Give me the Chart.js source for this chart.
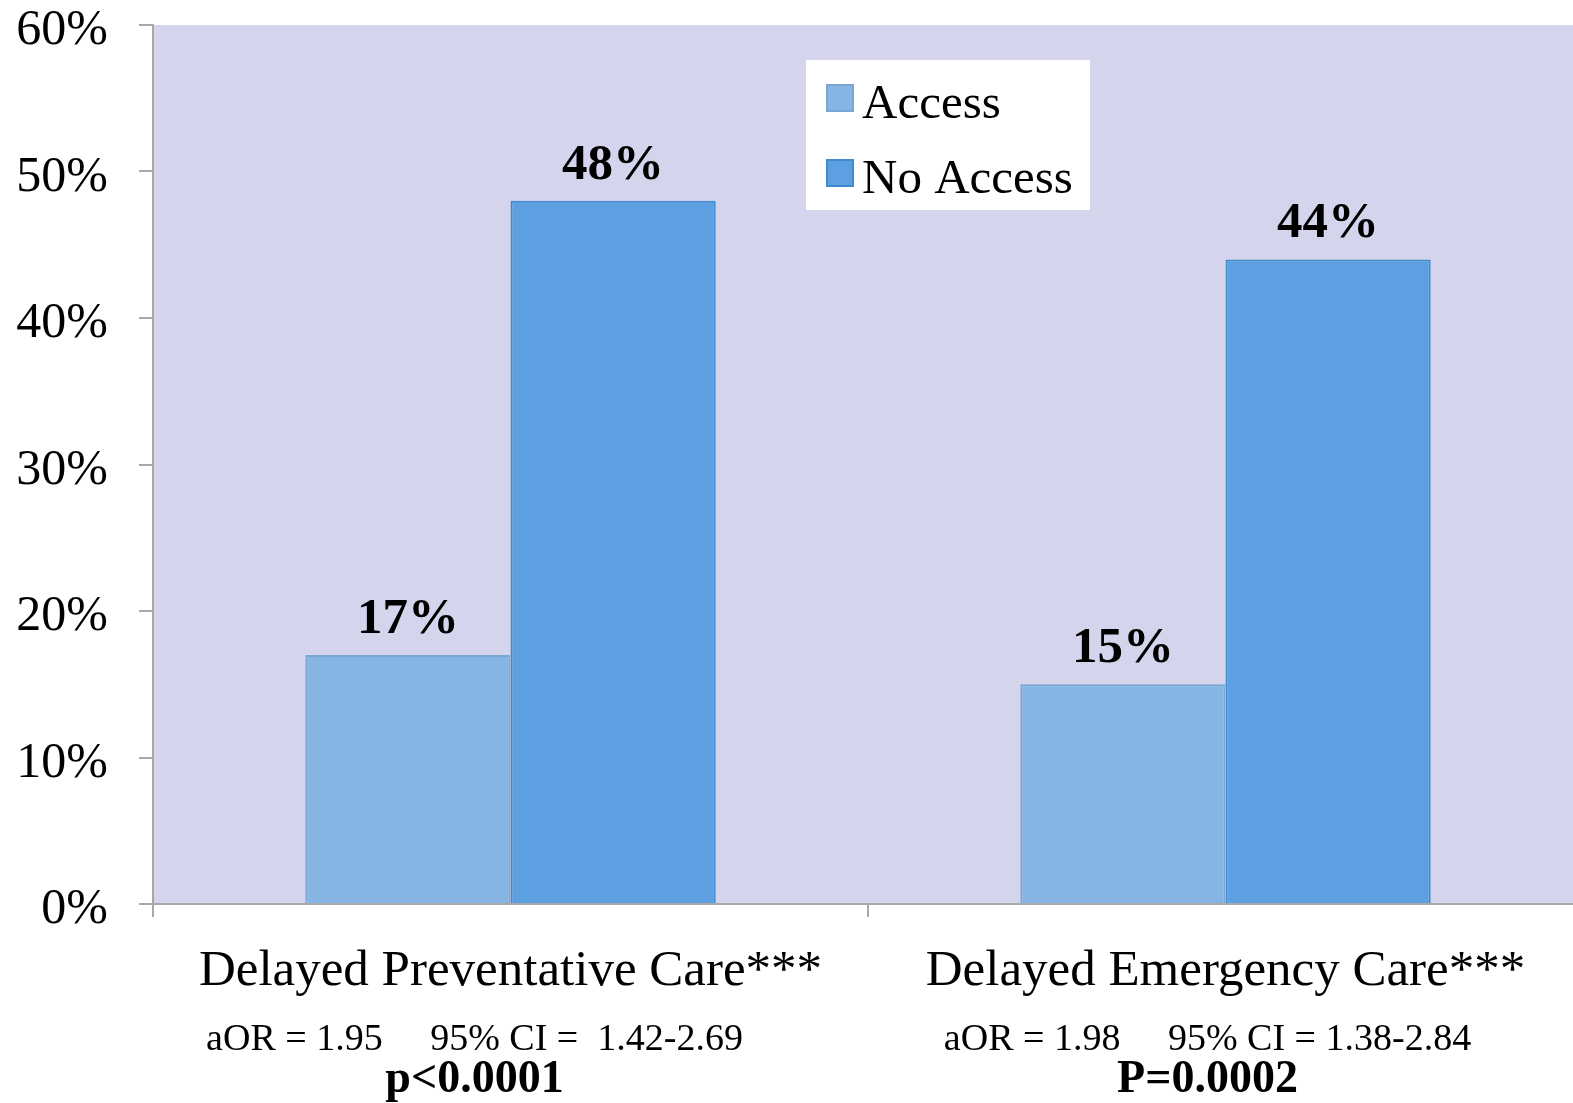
<!DOCTYPE html>
<html>
<head>
<meta charset="utf-8">
<script src="https://cdn.jsdelivr.net/npm/chart.js@4.4.1/dist/chart.umd.min.js"></script>
<style>
  html, body { margin: 0; padding: 0; background: #ffffff; overflow: hidden; }
  #wrap { width: 1583px; height: 1103px; position: relative; }
</style>
</head>
<body>
<div id="wrap"><canvas id="c"></canvas></div>
<script>
// ---- Data ----
const categories = ["Delayed Preventative Care***", "Delayed Emergency Care***"];
const seriesNames = ["Access", "No Access"];
const accessValues = [17, 15];
const noAccessValues = [48, 44];
const yTickValues = [0, 10, 20, 30, 40, 50, 60];
const statLines = ["aOR = 1.95     95% CI =  1.42-2.69", "aOR = 1.98     95% CI = 1.38-2.84"];
const pValues = ["p<0.0001", "P=0.0002"];

// ---- Styles ----
const SERIF = "'Liberation Serif', 'Times New Roman', serif";
const PLOT_BG = '#D4D5EC';
const AXIS = '#A8A8A8';
const colors = {
  access: { fill: '#86B5E4', border: '#79A6D4' },
  noAccess: { fill: '#5CA0E1', border: '#3F89CF' }
};

const plotBg = {
  id: 'plotBg',
  beforeDraw(chart) {
    const { ctx, chartArea: a } = chart;
    ctx.save();
    ctx.fillStyle = PLOT_BG;
    ctx.fillRect(a.left, a.top, a.right - a.left, a.bottom - a.top);
    ctx.restore();
  }
};

const valueLabels = {
  id: 'valueLabels',
  afterDatasetsDraw(chart) {
    const { ctx } = chart;
    ctx.save();
    ctx.font = "bold 51px " + SERIF;
    ctx.fillStyle = '#000';
    ctx.textAlign = 'center';
    ctx.textBaseline = 'alphabetic';
    chart.data.datasets.forEach((ds, di) => {
      const meta = chart.getDatasetMeta(di);
      meta.data.forEach((bar, i) => {
        ctx.fillText(ds.data[i] + '%', bar.x, bar.y - 22);
      });
    });
    ctx.restore();
  }
};

const customLegend = {
  id: 'customLegend',
  afterDraw(chart, args, opts) {
    const { ctx } = chart;
    const x = opts.x, y = opts.y, w = opts.w, h = opts.h;
    ctx.save();
    ctx.fillStyle = '#ffffff';
    ctx.fillRect(x, y, w, h);
    ctx.font = "49px " + SERIF;
    ctx.textBaseline = 'alphabetic';
    ctx.textAlign = 'left';
    chart.data.datasets.forEach((ds, i) => {
      const rowBase = y + 58 + i * 75;
      const sq = 26;
      ctx.fillStyle = ds.backgroundColor;
      ctx.strokeStyle = ds.borderColor;
      ctx.lineWidth = 2;
      ctx.fillRect(x + 21, rowBase - 33, sq, sq);
      ctx.strokeRect(x + 21, rowBase - 33, sq, sq);
      ctx.fillStyle = '#000';
      ctx.fillText(ds.label, x + 56, rowBase);
    });
    ctx.restore();
  }
};

const statsText = {
  id: 'statsText',
  afterDraw(chart, args, opts) {
    const { ctx } = chart;
    const xs = chart.scales.x;
    ctx.save();
    ctx.fillStyle = '#000';
    ctx.textAlign = 'center';
    ctx.textBaseline = 'alphabetic';
    categories.forEach((c, i) => {
      const cx = xs.getPixelForValue(i) + opts.offsets[i];
      ctx.font = "38px " + SERIF;
      ctx.fillText(statLines[i], cx, opts.statY);
      ctx.font = "bold 46px " + SERIF;
      ctx.fillText(pValues[i], cx, opts.pY);
    });
    ctx.restore();
  }
};

new Chart(document.getElementById('c'), {
  type: 'bar',
  data: {
    labels: categories,
    datasets: [
      {
        label: seriesNames[0],
        data: accessValues,
        backgroundColor: colors.access.fill,
        borderColor: colors.access.border,
        borderWidth: 2,
        categoryPercentage: 0.574,
        barPercentage: 1.0
      },
      {
        label: seriesNames[1],
        data: noAccessValues,
        backgroundColor: colors.noAccess.fill,
        borderColor: colors.noAccess.border,
        borderWidth: 2,
        categoryPercentage: 0.574,
        barPercentage: 1.0
      }
    ]
  },
  options: {
    responsive: true,
    maintainAspectRatio: false,
    animation: false,
    layout: { padding: { top: 25, right: 0, bottom: 0, left: 0 } },
    plugins: {
      legend: { display: false },
      tooltip: { enabled: false },
      customLegend: { x: 806, y: 60, w: 284, h: 150 },
      statsText: { offsets: [-36, -18], statY: 1050, pY: 1092 }
    },
    scales: {
      x: {
        offset: true,
        grid: {
          display: true,
          offset: true,
          drawOnChartArea: false,
          drawTicks: true,
          tickLength: 13,
          color: AXIS,
          lineWidth: 2
        },
        border: { display: true, color: AXIS, width: 2 },
        ticks: {
          color: '#000',
          padding: 24,
          font: { family: SERIF, size: 51 },
          maxRotation: 0,
          autoSkip: false
        },
        afterFit(scale) {
          scale.height = 199;
          scale.paddingLeft = 0;
          scale.paddingRight = 0;
        }
      },
      y: {
        min: 0,
        max: 60,
        afterBuildTicks(scale) { scale.ticks = yTickValues.map(v => ({ value: v })); },
        grid: {
          display: true,
          drawOnChartArea: false,
          drawTicks: true,
          tickLength: 14,
          color: AXIS,
          lineWidth: 2
        },
        border: { display: true, color: AXIS, width: 2 },
        ticks: {
          color: '#000',
          padding: 31,
          labelOffset: 6,
          font: { family: SERIF, size: 50, lineHeight: 1 },
          callback: v => v + '%'
        },
        afterFit(scale) {
          scale.width = 153;
          scale.paddingTop = 0;
          scale.paddingBottom = 0;
        }
      }
    }
  },
  plugins: [plotBg, valueLabels, customLegend, statsText]
});
</script>
</body>
</html>
